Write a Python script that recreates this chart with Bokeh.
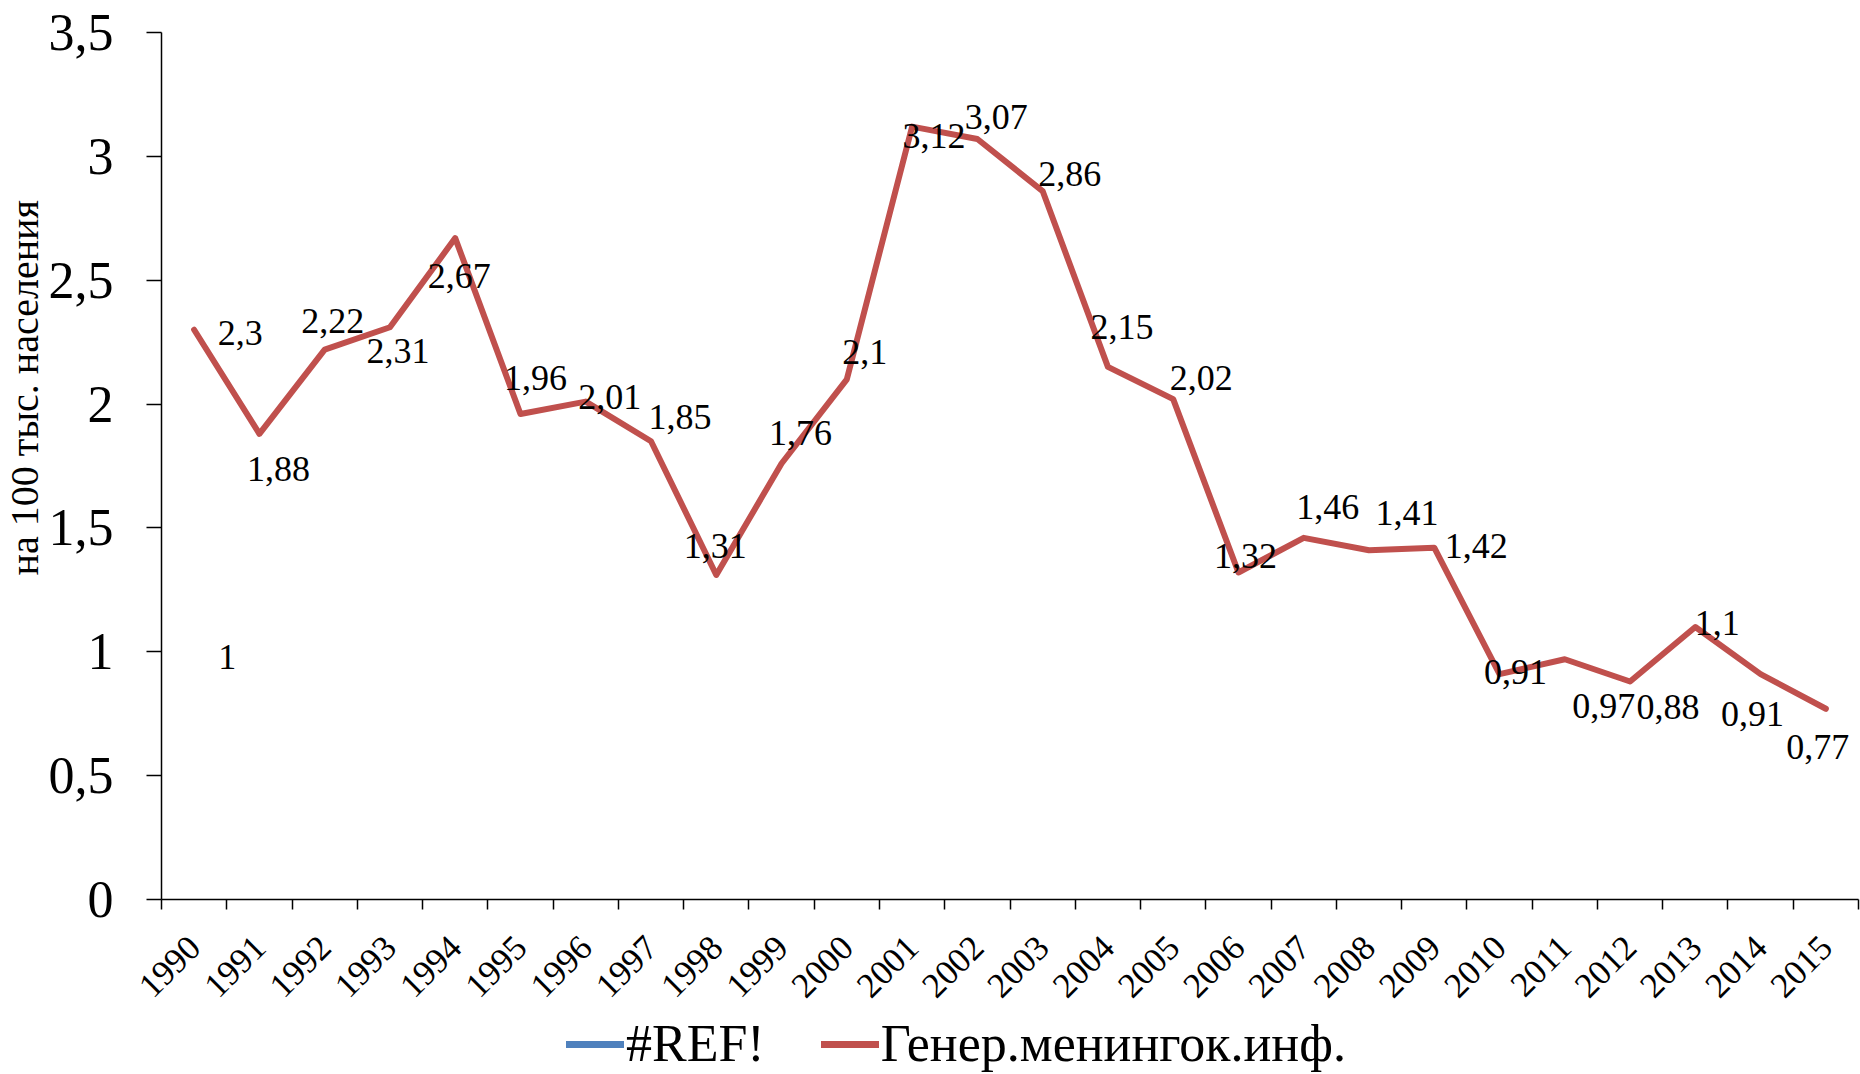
import math
from bokeh.plotting import figure
from bokeh.layouts import column
from bokeh.models import (Range1d, FixedTicker, CustomJSTickFormatter, Legend,
                          LegendItem, Title, ColumnDataSource)
from bokeh.core.properties import value
from bokeh.embed import file_html
from bokeh.resources import INLINE

# ---- data ----
years = [1990, 1991, 1992, 1993, 1994, 1995, 1996, 1997, 1998, 1999, 2000,
         2001, 2002, 2003, 2004, 2005, 2006, 2007, 2008, 2009, 2010, 2011,
         2012, 2013, 2014, 2015]
values = [2.3, 1.88, 2.22, 2.31, 2.67, 1.96, 2.01, 1.85, 1.31, 1.76, 2.1,
          3.12, 3.07, 2.86, 2.15, 2.02, 1.32, 1.46, 1.41, 1.42, 0.91, 0.97,
          0.88, 1.1, 0.91, 0.77]
ref_years = [1990]
ref_values = [1]
y_ticks = [0, 0.5, 1, 1.5, 2, 2.5, 3, 3.5]
series_names = ["#REF!", "Генер.менингок.инф."]
y_title = "на 100 тыс. населения"

# label placement (pixel offsets, style only)
label_dx = [46, 19, 8, 8, 4, 15, 24, 29, -1, 19, 18, 22, 19, 27, 14, 28, 7, 24,
            38, 42, 16, 39, 38, 22, -8, -8]
label_dy = [3, 35, -29, 24, 38, -36, -5, -24, -29, -31, -27, 9, -22, -17, -40,
            -21, -17, -31, -37, -2, -2, 47, 25, -4, 40, 38]
ref_dx = [33]
ref_dy = [5]

BLUE = "#4F81BD"
RED = "#C0504D"
FONT = "Liberation Serif"


def fmt(v):
    return ("%g" % v).replace(".", ",")


p = figure(width=1860, height=1010, output_backend="svg", toolbar_location=None,
           x_range=Range1d(years[0] - 0.5, years[-1] + 0.5),
           y_range=Range1d(y_ticks[0], y_ticks[-1]),
           min_border_left=155, min_border_right=2, min_border_top=32,
           min_border_bottom=108)
p.grid.visible = False
p.outline_line_color = None
p.background_fill_color = "white"
p.border_fill_color = "white"

# y axis
yax = p.yaxis[0]
yax.ticker = FixedTicker(ticks=y_ticks)
yax.formatter = CustomJSTickFormatter(code="return String(tick).replace('.', ',');")
yax.axis_line_color = "black"
yax.axis_line_width = 1.5
yax.major_tick_line_color = "black"
yax.major_tick_line_width = 1.5
yax.major_tick_out = 15
yax.major_tick_in = 0
yax.minor_tick_line_color = None
yax.major_label_text_font = FONT
yax.major_label_text_font_size = "52px"
yax.major_label_text_color = "black"
yax.major_label_standoff = 33

# x axis (ticks between categories, labels at category centers)
boundaries = [y - 0.5 for y in years] + [years[-1] + 0.5]
xax = p.xaxis[0]
xax.ticker = FixedTicker(ticks=years, minor_ticks=boundaries)
xax.formatter = CustomJSTickFormatter(code="return String(tick);")
xax.axis_line_color = "black"
xax.axis_line_width = 1.5
xax.major_tick_out = 0
xax.major_tick_in = 0
xax.minor_tick_out = 10
xax.minor_tick_in = 0
xax.minor_tick_line_color = "black"
xax.minor_tick_line_width = 1.5
xax.major_label_orientation = math.pi / 4
xax.major_label_text_font = FONT
xax.major_label_text_font_size = "35px"
xax.major_label_text_color = "black"
xax.major_label_standoff = 32

# series
p.line(ref_years, ref_values, line_color=BLUE, line_width=7, line_cap="round")
p.line(years, values, line_color=RED, line_width=6,
       line_join="round", line_cap="round")

src = ColumnDataSource(dict(x=years, y=values, t=[fmt(v) for v in values],
                            dx=label_dx, dy=label_dy))
p.text(x="x", y="y", text="t", x_offset="dx", y_offset="dy", source=src,
       text_font=value(FONT), text_font_size="36px", text_color="black",
       text_align="center", text_baseline="middle")
src_ref = ColumnDataSource(dict(x=ref_years, y=ref_values,
                                t=[fmt(v) for v in ref_values],
                                dx=ref_dx, dy=ref_dy))
p.text(x="x", y="y", text="t", x_offset="dx", y_offset="dy", source=src_ref,
       text_font=value(FONT), text_font_size="36px", text_color="black",
       text_align="center", text_baseline="middle")

# y-axis title (outside the tick labels, shifted upward like the reference)
p.add_layout(Title(text=y_title, align="left", offset=324, standoff=-2,
                   text_font=FONT, text_font_size="40px",
                   text_font_style="normal", text_color="black"), "left")

# ---- legend strip below the chart ----
# (series are drawn again here only to supply legend swatches; the strip's
#  ranges keep them out of view)
lg = figure(width=1860, height=64, output_backend="svg", toolbar_location=None,
            x_axis_type=None, y_axis_type=None,
            x_range=Range1d(0, 1), y_range=Range1d(0, 0.01),
            min_border_left=0, min_border_right=0, min_border_top=0,
            min_border_bottom=0)
lg.grid.visible = False
lg.outline_line_color = None
lg.background_fill_color = "white"
lg.border_fill_color = "white"
k_ref = lg.line(ref_years, ref_values, line_color=BLUE, line_width=7,
                line_cap="round")
k_main = lg.line(years, values, line_color=RED, line_width=7,
                 line_cap="round")
legend = Legend(items=[LegendItem(label=series_names[0], renderers=[k_ref]),
                       LegendItem(label=series_names[1], renderers=[k_main])],
                orientation="horizontal", location=(405, 1),
                glyph_width=58, glyph_height=30, label_text_font=FONT,
                label_text_font_size="52px", label_text_color="black",
                spacing=56, label_standoff=2, padding=0, margin=0,
                border_line_color=None, background_fill_alpha=0)
lg.add_layout(legend)

open("out.html", "w").write(file_html(column(p, lg), INLINE))
